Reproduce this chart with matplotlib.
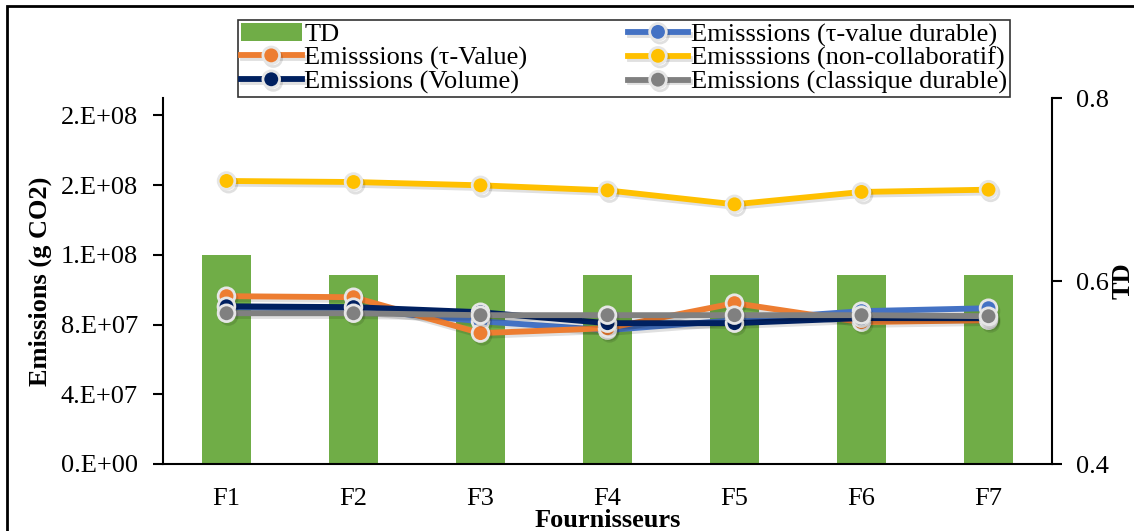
import matplotlib
matplotlib.use("Agg")
import matplotlib.pyplot as plt
import matplotlib.patheffects as pe
from matplotlib.patches import Rectangle
from matplotlib.ticker import FuncFormatter, FixedLocator
import numpy as np

plt.rcParams['font.family'] = ['Liberation Serif', 'DejaVu Serif']

categories = ["F1", "F2", "F3", "F4", "F5", "F6", "F7"]
td = [0.628, 0.607, 0.607, 0.607, 0.607, 0.607, 0.607]
em_tau_value_durable = [9.00e7, 8.88e7, 8.19e7, 7.68e7, 8.25e7, 8.77e7, 8.94e7]
em_tau_value = [9.63e7, 9.57e7, 7.51e7, 7.79e7, 9.23e7, 8.14e7, 8.25e7]
em_non_collab = [1.624e8, 1.618e8, 1.599e8, 1.570e8, 1.490e8, 1.561e8, 1.574e8]
em_volume = [9.05e7, 9.00e7, 8.71e7, 8.08e7, 8.08e7, 8.37e7, 8.37e7]
em_classique = [8.65e7, 8.65e7, 8.54e7, 8.54e7, 8.54e7, 8.54e7, 8.48e7]

labels = ["TD",
          "Emisssions (τ-value durable)",
          "Emisssions (τ-Value)",
          "Emisssions (non-collaboratif)",
          "Emissions (Volume)",
          "Emissions (classique durable)"]

W, H = 1134, 531
fig = plt.figure(figsize=(W / 100, H / 100), dpi=100)
L, R, B, T = 163 / W, 1052 / W, 1 - 464 / H, 1 - 98 / H
ax = fig.add_axes([L, B, R - L, T - B])
ax2 = ax.twinx()
ax.set_zorder(ax2.get_zorder() + 1)
ax.patch.set_visible(False)

x = np.arange(len(categories))
FS = 19

# bars on secondary axis
bars = ax2.bar(x, td, width=0.39, color="#70AD47", label=labels[0], zorder=2)
ax2.set_ylim(0.4, 0.8)
ax2.yaxis.set_major_locator(FixedLocator([0.4, 0.6, 0.8]))
ax2.yaxis.set_major_formatter(FuncFormatter(lambda v, p: f"{v:.1f}"))
ax2.tick_params(axis='y', direction='out', length=7, width=1.5, pad=10, labelsize=FS)
ax2.set_ylabel("TD", fontsize=FS, fontweight='bold', labelpad=2)
for s in ["top", "left", "bottom"]:
    ax2.spines[s].set_visible(False)
ax2.spines["right"].set_linewidth(1.5)

series = [
    (em_tau_value_durable, "#4472C4", labels[1]),
    (em_tau_value, "#ED7D31", labels[2]),
    (em_non_collab, "#FFC000", labels[3]),
    (em_volume, "#002060", labels[4]),
    (em_classique, "#808080", labels[5]),
]
handles = [bars]
for i, (vals, col, lab) in enumerate(series):
    ln, = ax.plot(x, vals, color=col, lw=4.2, marker='o', markersize=12,
                  markerfacecolor=col, markeredgecolor="#E6E6E6", markeredgewidth=2,
                  label=lab, zorder=3 + i, solid_joinstyle='round',
                  path_effects=[pe.SimpleLineShadow(offset=(1.5, -2), alpha=0.12, shadow_color='k'), pe.Normal()])
    handles.append(ln)

ax.set_xlim(-0.5, 6.5)
ax.set_ylim(0, 2.1e8)
ax.yaxis.set_major_locator(FixedLocator([0, 4e7, 8e7, 1.2e8, 1.6e8, 2e8]))

def fmt(v, p):
    m, e = f"{v:.0e}".split('e')
    return f"{m}.E{e}"

ax.yaxis.set_major_formatter(FuncFormatter(fmt))
ax.set_xticks(x)
ax.set_xticklabels(categories)
ax.tick_params(axis='y', direction='out', length=7, width=1.5, pad=11, labelsize=FS)
ax.tick_params(axis='x', length=0, pad=17, labelsize=FS)
ax.set_ylabel("Emissions (g CO2)", fontsize=FS, fontweight='bold', labelpad=6)
ax.set_xlabel("Fournisseurs", fontsize=FS, fontweight='bold', labelpad=0)
ax.xaxis.set_label_coords(0.5, -0.122)
for s in ["top", "right"]:
    ax.spines[s].set_visible(False)
ax.spines["left"].set_linewidth(1.5)
ax.spines["bottom"].set_linewidth(1.5)

# legend in Excel row-wise ordering -> matplotlib column-wise
order = [0, 2, 4, 1, 3, 5]
leg = fig.legend([handles[i] for i in order], [labels[i] for i in order],
                 ncol=2, loc='center',
                 bbox_to_anchor=((236 + 1012) / 2 / W, 1 - (19 + 98) / 2 / H),
                 fontsize=FS, frameon=True, fancybox=False, edgecolor='black',
                 handlelength=2.3, handletextpad=0.1, columnspacing=3.8,
                 labelspacing=0.0, borderpad=0.1, borderaxespad=0)
leg.get_frame().set_linewidth(1.2)

# outer border
fig.add_artist(Rectangle((7 / W, -0.1), 1.5, 1 - 6 / H + 0.1, transform=fig.transFigure,
                         fill=False, ec='black', lw=2, clip_on=False))

fig.savefig("out.png", dpi=100)
